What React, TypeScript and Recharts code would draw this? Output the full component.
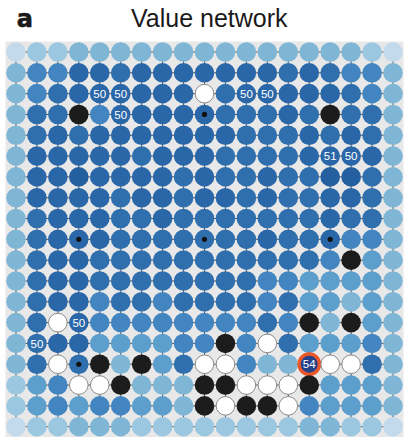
import React from 'react';
import { ScatterChart, Scatter, XAxis, YAxis, ReferenceArea, ReferenceLine } from 'recharts';

// Board shading per point: digits 1 (lightest) .. 8 (darkest blue),
// B = black stone, W = white stone, X = highlighted move
const ROWS = [
  '1223333333333333321',
  '3557767777777676553',
  '356777777W677777653',
  '366B57777766676B663',
  '3676777777766676763',
  '3777776777666677773',
  '3778777767667668863',
  '3777767767767667763',
  '3677766766666667663',
  '3677766666667667553',
  '3677666666666665B43',
  '3677666666665544443',
  '3677566566665644343',
  '36W75555555565B3B43',
  '3677444455B5W644453',
  '36W6B3B46WW533XWW63',
  '245WWB333BBWWWB4443',
  '245455443BWBBW54443',
  '1223332222222233221',
];

const LABELS = [
  { r: 2, c: 4, text: '50' },
  { r: 2, c: 5, text: '50' },
  { r: 3, c: 5, text: '50' },
  { r: 2, c: 11, text: '50' },
  { r: 2, c: 12, text: '50' },
  { r: 5, c: 15, text: '51' },
  { r: 5, c: 16, text: '50' },
  { r: 13, c: 3, text: '50' },
  { r: 14, c: 1, text: '50' },
  { r: 15, c: 14, text: '54' },
];

const STAR_POINTS = [
  [3, 3], [3, 9], [3, 15],
  [9, 3], [9, 9], [9, 15],
  [15, 3], [15, 9], [15, 15],
];

const LINES = Array.from({ length: 19 }, (_, i) => i);

const SHADES: Record<string, string> = {
  '1': '#c2daec',
  '2': '#9cc7e0',
  '3': '#7fb6d6',
  '4': '#5c9fcd',
  '5': '#4285c0',
  '6': '#306fae',
  '7': '#2a67a8',
  '8': '#245fa0',
};

const W = 406;
const H = 448;
const MARGIN = { left: 5.5, right: 2.5, top: 41.6, bottom: 10.9 };
const R = 9.8;

const cells = ROWS.flatMap((row, r) =>
  row.split('').map((code, c) => {
    const lab = LABELS.find((l) => l.r === r && l.c === c);
    const star = STAR_POINTS.some(([sr, sc]) => sr === r && sc === c);
    return { r, c, code, label: lab ? lab.text : '', star };
  })
);

const FONT = '"Liberation Sans", Arial, Helvetica, sans-serif';

function CellShape(props: any) {
  const { cx, cy, payload } = props;
  if (cx == null || cy == null || !payload) return <g />;
  const { code, label, star } = payload;
  if (code === 'B') {
    return <circle cx={cx} cy={cy} r={R} fill="#1c1c1c" />;
  }
  if (code === 'W') {
    return <circle cx={cx} cy={cy} r={R - 0.5} fill="#ffffff" stroke="#8a8a8a" strokeWidth={1} />;
  }
  if (code === 'X') {
    return (
      <g>
        <circle cx={cx} cy={cy} r={10.2} fill="#24418a" stroke="#e8582a" strokeWidth={3.4} />
        <text x={cx} y={cy + 4.1} textAnchor="middle" fontSize={11.5} fontFamily={FONT} fill="#ffffff">
          {label}
        </text>
      </g>
    );
  }
  return (
    <g>
      <circle cx={cx} cy={cy} r={R} fill={SHADES[code]} />
      {star && <circle cx={cx} cy={cy} r={2.6} fill="#111111" />}
      {label && (
        <text x={cx} y={cy + 4.1} textAnchor="middle" fontSize={11.5} fontFamily={FONT} fill="#ffffff">
          {label}
        </text>
      )}
    </g>
  );
}

export default function App() {
  return (
    <div style={{ position: 'absolute', left: 0, top: 0, width: W, height: H, background: '#ffffff' }}>
      <ScatterChart width={W} height={H} margin={MARGIN}>
        <XAxis type="number" dataKey="c" domain={[-0.5, 18.5]} hide allowDataOverflow />
        <YAxis type="number" dataKey="r" domain={[-0.5, 18.5]} reversed hide allowDataOverflow />
        <ReferenceArea x1={-0.5} x2={18.5} y1={-0.5} y2={18.5} fill="#e8e8e8" fillOpacity={1} stroke="none" />
        {LINES.map((i) => (
          <ReferenceLine
            key={'h' + i}
            segment={[{ x: 0, y: i }, { x: 18, y: i }]}
            stroke="#5a5a5a"
            strokeWidth={1}
          />
        ))}
        {LINES.map((i) => (
          <ReferenceLine
            key={'v' + i}
            segment={[{ x: i, y: 0 }, { x: i, y: 18 }]}
            stroke="#5a5a5a"
            strokeWidth={1}
          />
        ))}
        <Scatter data={cells} shape={CellShape} isAnimationActive={false} />
      </ScatterChart>
      <svg width={W} height={40} style={{ position: 'absolute', left: 0, top: 0 }}>
        <text
          x={16.8}
          y={26.7}
          fontSize={24}
          fontWeight="bold"
          fontFamily='"DejaVu Sans", Arial, sans-serif'
          fill="#1a1a1a"
          stroke="#1a1a1a"
          strokeWidth={0.6}
        >
          a
        </text>
        <text x={131} y={27.3} fontSize={25} fontFamily={FONT} fill="#1a1a1a">
          Value network
        </text>
      </svg>
    </div>
  );
}
